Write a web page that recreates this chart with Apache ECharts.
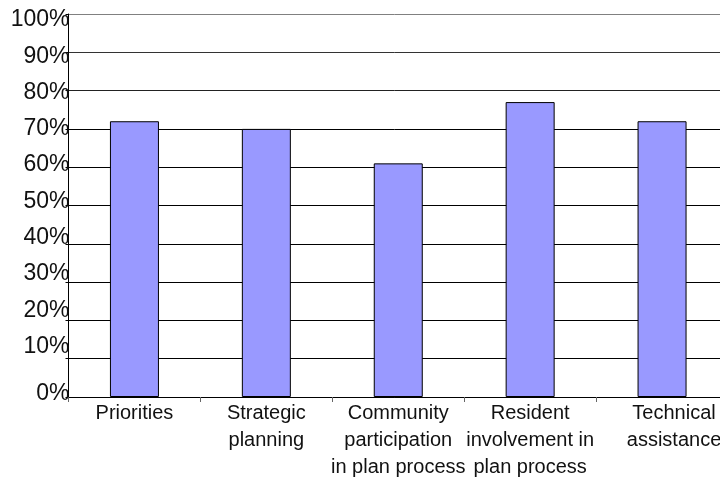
<!DOCTYPE html>
<html><head><meta charset="utf-8">
<script src="https://cdn.jsdelivr.net/npm/echarts@6/dist/echarts.min.js"></script>
<style>html,body{margin:0;padding:0;background:#fff}#c{width:720px;height:480px}</style>
</head><body><div id="c"></div>
<script>
const categories = ["Priorities", "Strategic\nplanning", "Community\nparticipation\nin plan process", "Resident\ninvolvement in\nplan process", "Technical\nassistance"];
const values = [72, 70, 61, 77, 72];
const yTicks = {min: 0, max: 100, interval: 10};

const chart = echarts.init(document.getElementById('c'));
const gridColors = ['#000','#000','#000','#000','#000','#000','#000','#000','#222','#333','#808080'];
const font = 'Liberation Sans, Arial, sans-serif';
chart.setOption({
  animation: false,
  grid: [
    {left: 68.5, top: 14, width: 659.5, height: 383, containLabel: false, outerBoundsMode: 'none'},
    {left: 68.5, top: 20, width: 659.5, height: 362.8, containLabel: false, outerBoundsMode: 'none'}
  ],
  xAxis: [{
    type: 'category', data: categories, boundaryGap: true, gridIndex: 0,
    axisLine: {lineStyle: {color: '#000', width: 1}},
    axisTick: {show: true, alignWithLabel: false, length: 5, lineStyle: {color: '#666'}},
    axisLabel: {
      interval: 0, margin: 3, fontFamily: font, fontSize: 20, lineHeight: 27, color: '#111',
      formatter: function (v, i) { return i === categories.length - 1 ? '{s|' + v.split('\n').join('}\n{s|') + '}' : v; },
      rich: {s: {fontFamily: font, fontSize: 20, lineHeight: 27, color: '#111', padding: [0, 0, 0, 24]}}
    }
  }, {
    type: 'category', data: categories, gridIndex: 1, show: false
  }],
  yAxis: [{
    type: 'value', min: yTicks.min, max: yTicks.max, interval: yTicks.interval, gridIndex: 0,
    axisLine: {show: true, lineStyle: {color: '#000', width: 1}},
    axisTick: {show: true, length: 3, lineStyle: {color: '#000'}},
    axisLabel: {
      margin: -1, fontFamily: font, fontSize: 23, color: '#111',
      formatter: function (v) { return v === 0 ? '{z|' + v + '%}' : ''; },
      rich: {z: {fontFamily: font, fontSize: 23, color: '#111', padding: [0, 0, 7, 0]}}
    },
    splitLine: {show: true, lineStyle: {color: gridColors, width: 1}}
  }, {
    type: 'value', min: yTicks.min, max: yTicks.max, interval: yTicks.interval, gridIndex: 1,
    axisLine: {show: false}, axisTick: {show: false}, splitLine: {show: false},
    axisLabel: {showMinLabel: false, margin: -1, fontFamily: font, fontSize: 23, color: '#111', formatter: '{value}%'}
  }],
  series: [{
    type: 'bar', data: values, barWidth: 49, xAxisIndex: 0, yAxisIndex: 0,
    itemStyle: {color: '#9999FF', borderColor: '#000', borderWidth: 1}
  }]
});
</script></body></html>
